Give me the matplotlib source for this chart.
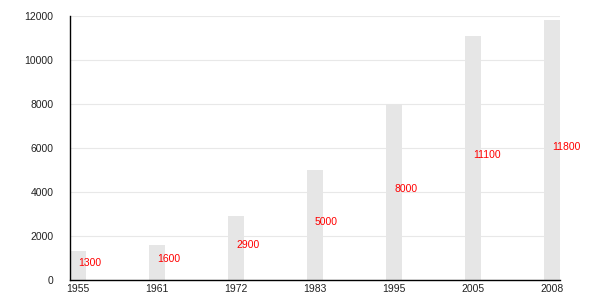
import matplotlib
matplotlib.use("Agg")
import matplotlib.pyplot as plt

years = ['1955', '1961', '1972', '1983', '1995', '2005', '2008']
population = [1300, 1600, 2900, 5000, 8000, 11100, 11800]
y_ticks = [0, 2000, 4000, 6000, 8000, 10000, 12000]

plt.rcParams['font.family'] = ['Liberation Sans', 'DejaVu Sans']

fig = plt.figure(figsize=(6, 3), dpi=100)
ax = fig.add_axes([70 / 600, 20 / 300, 490 / 600, 264 / 300])

x = list(range(len(years)))
ax.bar(x, population, width=0.2, color='#e6e6e6', zorder=2)

for xi, v in zip(x, population):
    ax.text(xi, v / 2, str(v), color='red', fontsize=7.5,
            ha='left', va='baseline', zorder=3)

ax.set_xlim(-0.1, 6.1)
ax.set_ylim(0, 12000)
ax.set_xticks(x)
ax.set_xticklabels(years)
ax.set_yticks(y_ticks)
ax.tick_params(axis='both', labelsize=7.5, length=0, colors='#222222')
ax.tick_params(axis='x', pad=3)
ax.tick_params(axis='y', pad=12)
ax.yaxis.grid(True, color='#e8e8e8', linewidth=0.8, zorder=0)
ax.set_axisbelow(True)

for side in ['top', 'right']:
    ax.spines[side].set_visible(False)
ax.spines['left'].set_color('black')
ax.spines['bottom'].set_color('black')
ax.spines['left'].set_linewidth(1)
ax.spines['bottom'].set_linewidth(1)

fig.savefig('out.png', dpi=100)
